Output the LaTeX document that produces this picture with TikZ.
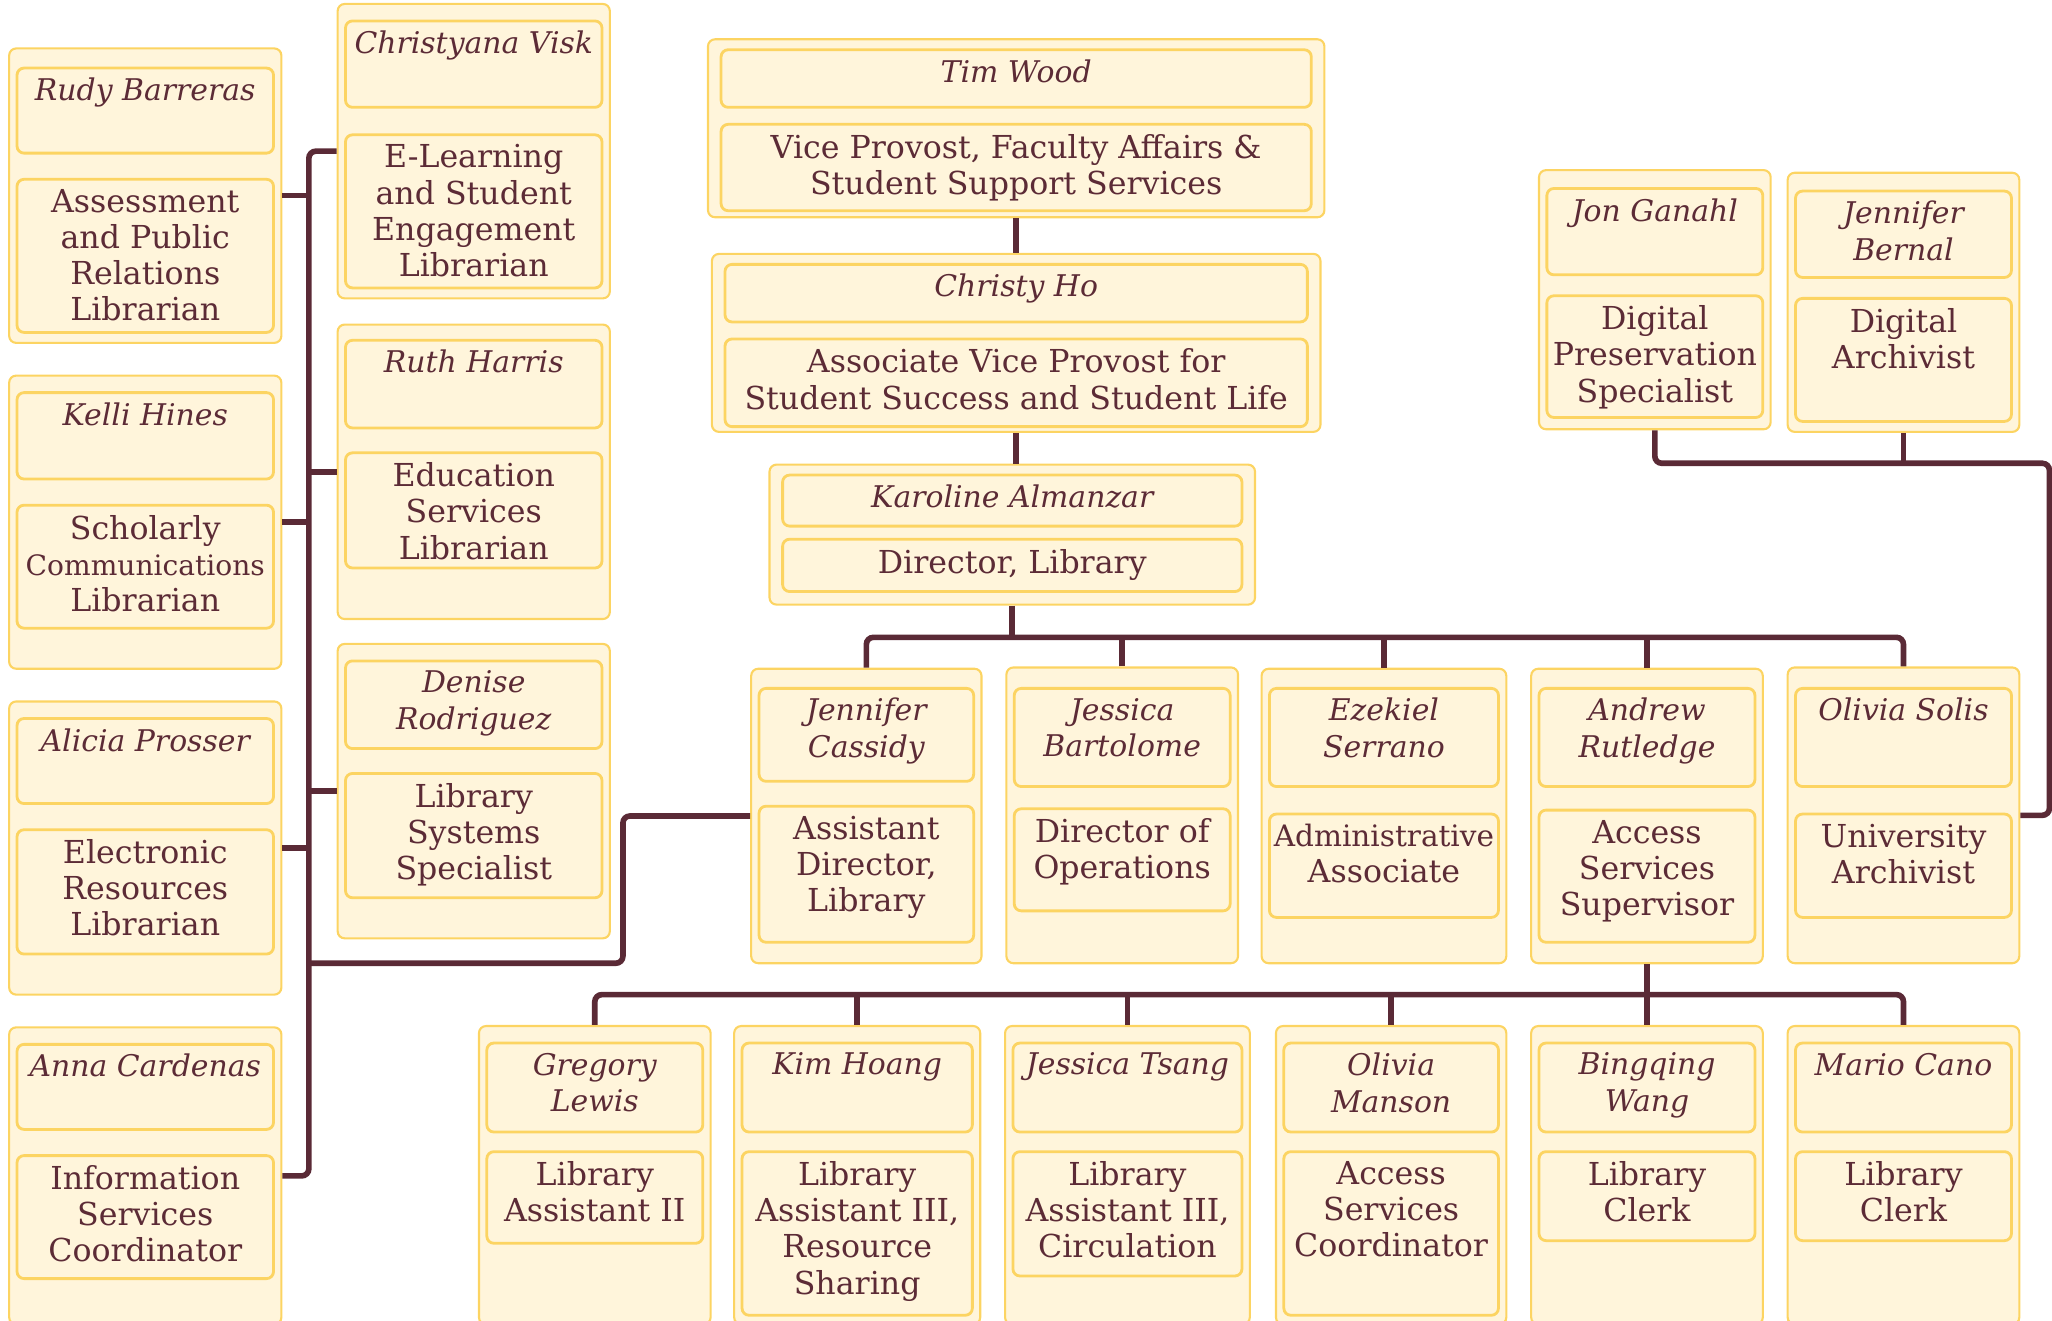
\documentclass[tikz,border=0pt]{standalone}
\usepackage{fontspec}
\setmainfont{DejaVu Serif}
\usetikzlibrary{fit}

\definecolor{cream}{HTML}{FFF5DB}
\definecolor{gold}{HTML}{FCD462}
\definecolor{ink}{HTML}{5C2B36}
\definecolor{wire}{HTML}{5A2A36}

\tikzset{
  cardbox/.style={draw=gold, fill=cream, line width=0.6pt, rounded corners=2pt, inner sep=0pt},
  innerbox/.style={draw=gold, fill=cream, line width=0.8pt, rounded corners=2pt},
  nametext/.style={anchor=north, align=center, inner sep=0pt, text=ink,
    font=\itshape\fontsize{8.5}{10.4}\selectfont},
  titletext/.style={anchor=north, align=center, inner sep=0pt, text=ink,
    font=\fontsize{9}{10.3}\selectfont},
  conn/.style={draw=wire, line width=1.6pt, rounded corners=2pt}
}

% one card: id, left, right, top, bottom
\newcommand\card[5]{%
  \node[cardbox, fit={(#2,#4) (#3,#5)}] (#1) {};
  \def\cardL{#2}\def\cardR{#3}\def\cardid{#1}}
% name box: top, bottom, text
\newcommand\nm[3]{%
  \draw[innerbox] (\cardL+\cardinset,#1) rectangle (\cardR-\cardinset,#2);
  \node[nametext] (\cardid-nm) at ({(\cardL+\cardR)/2},#1+7) {#3};}
% title box: top, bottom, text
\newcommand\ttl[3]{%
  \draw[innerbox] (\cardL+\cardinset,#1) rectangle (\cardR-\cardinset,#2);
  \node[titletext] (\cardid-ttl) at ({(\cardL+\cardR)/2},#1+7) {#3};}
\def\cardinset{6}

\begin{document}
\begin{tikzpicture}[x=0.013087cm, y=-0.013087cm]
    \useasboundingbox (0,0) rectangle (1568,1009);

    % left columns
    \card{barreras}{7}{215}{37}{262}
    \nm{52}{117}{Rudy Barreras}
    \ttl{137}{254}{Assessment\\and Public\\Relations\\Librarian}
    \card{hines}{7}{215}{287}{511}
    \nm{300}{366}{Kelli Hines}
    \ttl{386}{480}{\fontsize{9}{9.3}\selectfont Scholarly\\{\fontsize{8}{9.3}\selectfont Communications}\\Librarian}
    \card{prosser}{7}{215}{536}{760}
    \nm{549}{614}{Alicia Prosser}
    \ttl{634}{729}{Electronic\\Resources\\Librarian}
    \card{cardenas}{7}{215}{785}{1012}
    \nm{798}{863}{Anna Cardenas}
    \ttl{883}{977}{Information\\Services\\Coordinator}
    \card{visk}{258}{466}{3}{228}
    \nm{16}{82}{Christyana Visk}
    \ttl{103}{220}{E-Learning\\and Student\\Engagement\\Librarian}
    \card{harris}{258}{466}{248}{473}
    \nm{260}{327}{Ruth Harris}
    \ttl{346}{434}{\fontsize{9}{9.6}\selectfont Education\\Services\\Librarian}
    \card{rodriguez}{258}{466}{492}{717}
    \nm{505}{572}{Denise\\Rodriguez}
    \ttl{591}{686}{Library\\Systems\\Specialist}

    % top of the tree
    \def\cardinset{10}
    \card{wood}{541}{1012}{30}{166}
    \nm{38}{82}{Tim Wood}
    \ttl{95}{161}{Vice Provost, Faculty Affairs \&\\Student Support Services}
    \card{ho}{544}{1009}{194}{330}
    \nm{202}{246}{Christy Ho}
    \ttl{259}{326}{Associate Vice Provost for\\Student Success and Student Life}
    \card{almanzar}{588}{959}{355}{462}
    \nm{363}{402}{Karoline Almanzar}
    \ttl{412}{452}{Director, Library}
    \def\cardinset{6}

    % digital collections
    \card{ganahl}{1176}{1353}{130}{328}
    \nm{144}{210}{Jon Ganahl}
    \ttl{226}{319}{Digital\\Preservation\\Specialist}
    \card{bernal}{1366}{1543}{132}{330}
    \nm{146}{212}{Jennifer\\Bernal}
    \ttl{228}{322}{Digital\\Archivist}

    % middle row
    \card{cassidy}{574}{750}{511}{736}
    \nm{526}{597}{Jennifer\\Cassidy}
    \ttl{616}{720}{Assistant\\Director,\\Library}
    \card{bartolome}{769}{946}{510}{736}
    \nm{526}{601}{Jessica\\Bartolome}
    \ttl{618}{696}{Director of\\Operations}
    \card{serrano}{964}{1151}{511}{736}
    \nm{526}{601}{Ezekiel\\Serrano}
    \ttl{622}{701}{\fontsize{8.4}{9.6}\selectfont Administrative\\Associate}
    \card{rutledge}{1170}{1347}{511}{736}
    \nm{526}{601}{Andrew\\Rutledge}
    \ttl{619}{720}{Access\\Services\\Supervisor}
    \card{solis}{1366}{1543}{510}{736}
    \nm{526}{601}{Olivia Solis}
    \ttl{622}{701}{University\\Archivist}

    % bottom row
    \card{lewis}{366}{543}{784}{1012}
    \nm{797}{865}{Gregory\\Lewis}
    \ttl{880}{950}{Library\\Assistant II}
    \card{hoang}{561}{749}{784}{1012}
    \nm{797}{865}{Kim Hoang}
    \ttl{880}{1005}{Library\\Assistant III,\\Resource\\Sharing}
    \card{tsang}{768}{955}{784}{1012}
    \nm{797}{865}{Jessica Tsang}
    \ttl{880}{975}{Library\\Assistant III,\\Circulation}
    \card{manson}{975}{1151}{784}{1012}
    \nm{797}{865}{Olivia\\Manson}
    \ttl{880}{1005}{Access\\Services\\Coordinator}
    \card{wang}{1170}{1347}{784}{1012}
    \nm{797}{865}{Bingqing\\Wang}
    \ttl{880}{948}{Library\\Clerk}
    \card{cano}{1366}{1543}{784}{1012}
    \nm{797}{865}{Mario Cano}
    \ttl{880}{948}{Library\\Clerk}

    % connectors
    \coordinate (midbus) at (773,487);
    \coordinate (lowbus) at (1258,760);
    \coordinate (rbus) at (1566,354);
    \coordinate (lbus) at (236,500);
    \coordinate (ljog) at (476,736);
    \draw[conn] (wood.south) -- (ho.north);
    \draw[conn] (ho.south) -- (ho.south |- almanzar.north);
    \draw[conn] (almanzar.south) -- (almanzar.south |- midbus);
    \draw[conn] (cassidy.north) |- (midbus) -| (solis.north);
    \foreach \n in {bartolome,serrano,rutledge}
        \draw[conn] (\n.north) -- (\n.north |- midbus);
    \draw[conn] (rutledge.south) -- (rutledge.south |- lowbus);
    \draw[conn] (lewis.north) |- (lowbus) -| (cano.north);
    \foreach \n in {hoang,tsang,manson,wang}
        \draw[conn] (\n.north) -- (\n.north |- lowbus);
    \draw[conn] (ganahl.south) |- (rbus) |- (solis.east);
    \draw[conn] (bernal.south) -- (bernal.south |- rbus);
    \draw[conn] (visk.west) -| (lbus) |- (cardenas.east);
    \foreach \n in {barreras,hines,prosser}
        \draw[conn] (\n.east) -- (\n.east -| lbus);
    \foreach \n in {harris,rodriguez}
        \draw[conn] (\n.west) -- (\n.west -| lbus);
    \draw[conn] (cassidy.west) -| (ljog) -- (ljog -| lbus);
\end{tikzpicture}
\end{document}
